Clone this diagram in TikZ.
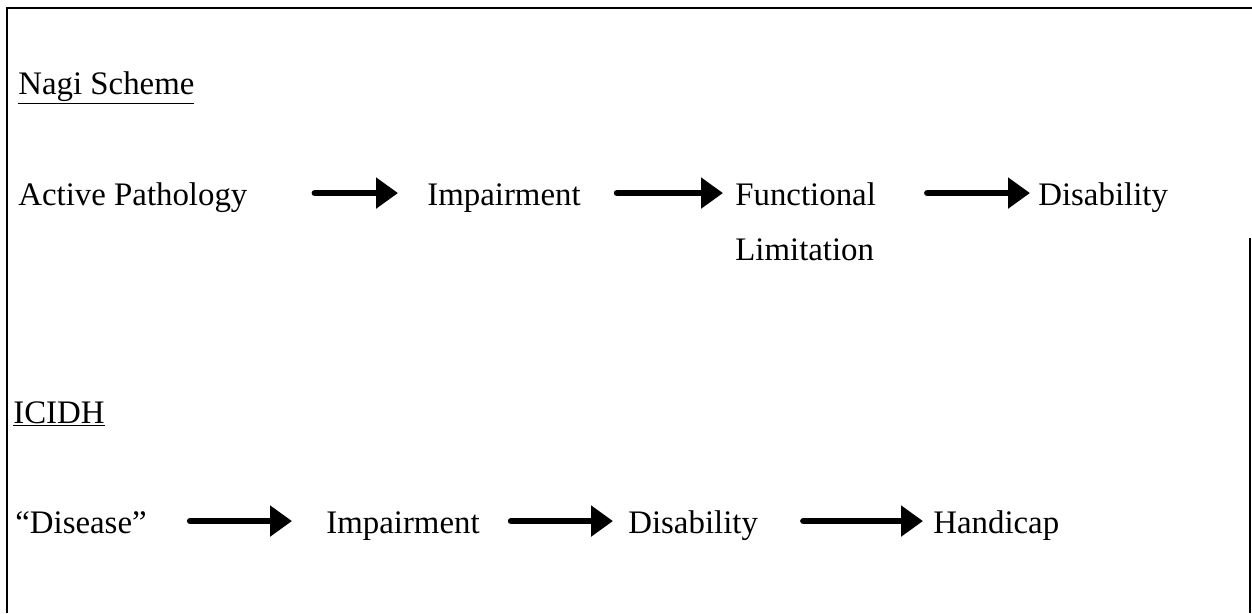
\documentclass[tikz,border=0pt]{standalone}
\usepackage{fontspec}
\setmainfont{Liberation Serif}
\usepackage{tikz}
\usetikzlibrary{positioning,arrows.meta}
\tikzset{
  word/.style  = {anchor=base west, inner sep=0pt, font=\fontsize{18.7}{22}\selectfont,
                  text height=17pt, text depth=3.4pt},
  title/.style = {word},
  frame/.style = {line width=1.1pt},
  fat/.style   = {line width=3.6pt, line cap=round,
                  -{Triangle[length=12.5pt, width=17pt]}}
}
\begin{document}
\begin{tikzpicture}[x=0.02cm, y=-0.02cm]
  \useasboundingbox (0,0) rectangle (1252,613);
  \draw[frame] (7,613) -- (7,8) -- (1252,8);
  \draw[frame] (1250,238) -- (1250,613);

  \node[title] (nagi) at (18,94)  {\underline{Nagi Scheme}};
  \node[word] (act)  at (18,205)  {Active Pathology};
  \node[word] (imp1) at (427,205) {Impairment};
  \node[word] (func) at (735,205) {Functional};
  \node[word] (lim)  at (735,260) {Limitation};
  \node[word] (dis1) at (1038,205) {Disability};
  \draw[fat, shorten <=1.34cm, shorten >=0.58cm] (act) -- (imp1);
  \draw[fat, shorten <=0.72cm, shorten >=0.24cm] (imp1) -- (func);
  \draw[fat, shorten <=1.02cm, shorten >=0.16cm] (func) -- (dis1);

  \node[title] (icidh) at (13,423) {\underline{ICIDH}};
  \node[word] (dise) at (15,533)  {“Disease”};
  \node[word] (imp2) at (326,533) {Impairment};
  \node[word] (dis2) at (628,533) {Disability};
  \node[word] (hand) at (933,533) {Handicap};
  \draw[fat, shorten <=0.86cm, shorten >=0.68cm] (dise) -- (imp2);
  \draw[fat, shorten <=0.62cm, shorten >=0.30cm] (imp2) -- (dis2);
  \draw[fat, shorten <=0.90cm, shorten >=0.20cm] (dis2) -- (hand);
\end{tikzpicture}
\end{document}
